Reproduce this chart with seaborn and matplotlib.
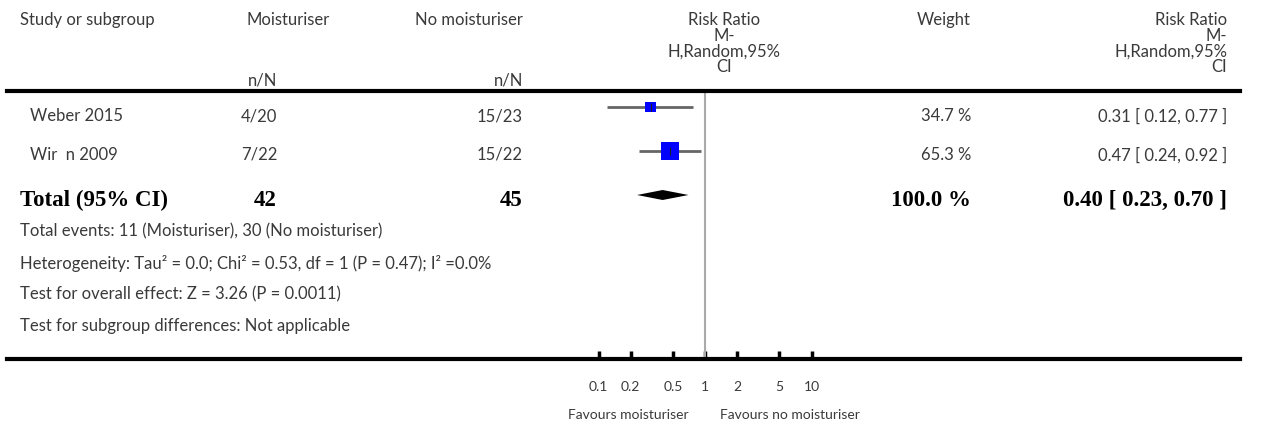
import numpy as np
import pandas as pd
import matplotlib
matplotlib.use("Agg")
import matplotlib.pyplot as plt
import seaborn as sns

# ---------------- data ----------------
studies = ["Weber 2015", "Wir  n 2009"]
events_moist = ["4/20", "7/22"]
events_none = ["15/23", "15/22"]
rr = [0.31, 0.47]
ci_low = [0.12, 0.24]
ci_high = [0.77, 0.92]
weights = [34.7, 65.3]

total_n_moist = 42
total_n_none = 45
total_rr = 0.40
total_low = 0.23
total_high = 0.70
total_weight = 100.0

tick_values = [0.1, 0.2, 0.5, 1, 2, 5, 10]
tick_labels = ["0.1", "0.2", "0.5", "1", "2", "5", "10"]

footnotes = [
    "Total events: 11 (Moisturiser), 30 (No moisturiser)",
    "Heterogeneity: Tau\u00b2 = 0.0; Chi\u00b2 = 0.53, df = 1 (P = 0.47); I\u00b2 =0.0%",
    "Test for overall effect: Z = 3.26 (P = 0.0011)",
    "Test for subgroup differences: Not applicable",
]
favours_left = "Favours moisturiser"
favours_right = "Favours no moisturiser"

# ---------------- layout ----------------
W, H = 1268, 427
DPI = 100
sns.set_theme(style="white")
plt.rcParams["font.family"] = ["Lato", "DejaVu Sans"]
TXT = "#3a3a3a"
FS = 12
FS_BOLD = 16.5
SERIF = ["Liberation Serif", "DejaVu Serif"]

fig = plt.figure(figsize=(W / DPI, H / DPI), dpi=DPI)

# forest axes: x from 7px to 1240px, y from 92px to 360px
x0, x1 = 7, 1240
y_top, y_bot = 92, 360
one_px = 705.0
px_per_dec = 106.5
ax = fig.add_axes([x0 / W, 1 - y_bot / H, (x1 - x0) / W, (y_bot - y_top) / H])
ax.set_xscale("log")
ax.set_xlim(10 ** ((x0 - one_px) / px_per_dec), 10 ** ((x1 - one_px) / px_per_dec))
ax.set_ylim(y_bot, y_top)

row_y = [108, 152]
row_text_y = [116, 155]
total_y = 196

def fx(px):
    return px / W

def fy(py):
    return 1 - py / H

def t(x, y, s, ha="left", **kw):
    kw.setdefault("fontsize", FS)
    kw.setdefault("color", TXT)
    fig.text(fx(x), fy(y), s, ha=ha, va="center", **kw)

# vertical line of no effect
ax.axvline(1, color="#aaaaaa", lw=1.5, zorder=1)

# CI lines
ax.hlines(row_y, ci_low, ci_high, color="#666666", lw=2, zorder=2)

# squares sized by weight
df = pd.DataFrame({"rr": rr, "y": row_y, "w": weights})
side_max = 18.0  # px for the largest weight
side = [side_max * (w / max(weights)) ** 0.8 for w in weights]
s_pts = [(sd * 72 / DPI) ** 2 for sd in side]
sns.scatterplot(data=df, x="rr", y="y", size="w", sizes=(min(s_pts), max(s_pts)),
                marker="s", color="#0000ff", edgecolor="none", linewidth=0,
                legend=False, ax=ax, zorder=3)
ax.scatter(rr, row_y, marker="|", s=30, color="#222222", linewidths=0.8, zorder=4)

# diamond
ax.fill([total_low, total_rr, total_high, total_rr],
        [total_y, total_y - 5, total_y, total_y + 5], color="black", zorder=3, lw=0)

# axes styling
for side_name in ["left", "right"]:
    ax.spines[side_name].set_visible(False)
for side_name in ["top", "bottom"]:
    ax.spines[side_name].set_visible(True)
    ax.spines[side_name].set_color("black")
    ax.spines[side_name].set_linewidth(3)
ax.set_yticks([])
ax.set_xticks(tick_values)
ax.set_xticklabels(tick_labels)
ax.xaxis.set_minor_locator(matplotlib.ticker.NullLocator())
ax.tick_params(axis="x", which="major", direction="in", length=6, width=2.5,
               color="black", labelsize=10, labelcolor=TXT, pad=15, bottom=True, top=False)
ax.set_xlabel("")
ax.set_ylabel("")
ax.patch.set_alpha(0)

# ---------------- header text ----------------
t(20, 20, "Study or subgroup")
t(330, 20, "Moisturiser", ha="right")
t(523, 20, "No moisturiser", ha="right")
t(277, 81, "n/N", ha="right")
t(523, 81, "n/N", ha="right")
for yy, s in zip([20, 36, 52, 67], ["Risk Ratio", "M-", "H,Random,95%", "CI"]):
    t(724, yy, s, ha="center")
    t(1227, yy, s, ha="right")
t(971, 20, "Weight", ha="right")

# ---------------- study rows ----------------
for i in range(len(studies)):
    yy = row_text_y[i]
    t(30, yy, studies[i])
    t(277, yy, events_moist[i], ha="right")
    t(523, yy, events_none[i], ha="right")
    t(971, yy, f"{weights[i]:.1f} %", ha="right")
    t(1227, yy, f"{rr[i]:.2f} [ {ci_low[i]:.2f}, {ci_high[i]:.2f} ]", ha="right")

# total row
ty = 200
bold = dict(fontsize=FS_BOLD, fontweight="bold", family=SERIF, color="black")
t(20, ty, "Total (95% CI)", **bold)
t(277, ty, str(total_n_moist), ha="right", **bold)
t(523, ty, str(total_n_none), ha="right", **bold)
t(971, ty, f"{total_weight:.1f} %", ha="right", **bold)
t(1227, ty, f"{total_rr:.2f} [ {total_low:.2f}, {total_high:.2f} ]", ha="right", **bold)

# footnotes
for yy, s in zip([231, 263, 294, 326], footnotes):
    t(20, yy, s)

# favours labels
t(689, 415, favours_left, ha="right", fontsize=10)
t(720, 415, favours_right, fontsize=10)

fig.savefig("out.png", dpi=DPI)
